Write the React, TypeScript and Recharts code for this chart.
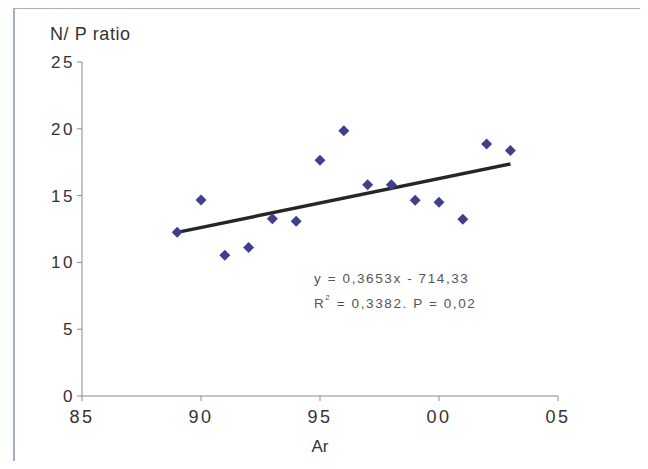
import { ScatterChart, Scatter, XAxis, YAxis, Label } from "recharts";

// N/P ratio per year
const years = [1989, 1990, 1991, 1992, 1993, 1994, 1995, 1996, 1997, 1998, 1999, 2000, 2001, 2002, 2003];
const npRatio = [12.26, 14.67, 10.53, 11.12, 13.26, 13.08, 17.65, 19.86, 15.81, 15.81, 14.65, 14.5, 13.23, 18.87, 18.37];

// regression line end points (y = 0,3653x - 714,33)
const trendYears = [1989, 2003];
const trendValues = [12.25, 17.37];

const xTicks = [1985, 1990, 1995, 2000, 2005];
const yTicks = [0, 5, 10, 15, 20, 25];

const points = years.map((x, i) => ({ x, y: npRatio[i] }));
const trend = trendYears.map((x, i) => ({ x, y: trendValues[i] }));

const font = "'Liberation Sans', Arial, sans-serif";

const Diamond = (props: any) => {
  const { cx, cy } = props;
  const r = 5.5;
  return (
    <polygon
      points={`${cx},${cy - r} ${cx + r},${cy} ${cx},${cy + r} ${cx - r},${cy}`}
      fill="#3f3f8f"
    />
  );
};

export default function App() {
  return (
    <div style={{ position: "relative", width: 648, height: 469, margin: -8, overflow: "hidden", background: "#fff", fontFamily: font }}>
      <div
        style={{
          position: "absolute",
          left: 13,
          top: 7,
          width: 626,
          height: 480,
          border: "2px solid #a3afc6",
        }}
      />
      <div style={{ position: "absolute", left: 50, top: 24, fontSize: 18, color: "#333", letterSpacing: 0.6 }}>
        N/ P ratio
      </div>
      <div style={{ position: "absolute", left: 314, top: 266, fontSize: 13.5, color: "#555", letterSpacing: 1.6, lineHeight: "25px" }}>
        <div>y = 0,3653x - 714,33</div>
        <div>
          R<sup style={{ fontSize: 8, verticalAlign: "top", lineHeight: "14px" }}>2</sup> = 0,3382. P = 0,02
        </div>
      </div>
      <ScatterChart width={648} height={469} margin={{ top: 62, right: 90, left: 22, bottom: 13 }} style={{ position: "absolute", left: 0, top: 0 }}>
        <XAxis
          type="number"
          dataKey="x"
          domain={[1985, 2005]}
          ticks={xTicks}
          tickFormatter={(v: number) => String(v).slice(2)}
          height={60}
          stroke="#8a8a8a"
          tickSize={5}
          tickMargin={9}
          tick={{ fontSize: 18, fill: "#333", fontFamily: font, letterSpacing: 2.5 }}
          allowDataOverflow
        >
          <Label value="Ar" position="insideBottom" offset={4} style={{ fontSize: 17, fill: "#333", fontFamily: font }} />
        </XAxis>
        <YAxis
          type="number"
          dataKey="y"
          domain={[0, 25]}
          ticks={yTicks}
          width={60}
          stroke="#8a8a8a"
          tickSize={5}
          tickMargin={2}
          tick={{ fontSize: 17, fill: "#333", fontFamily: font, letterSpacing: 2.5 }}
        />
        <Scatter data={trend} line={{ stroke: "#262626", strokeWidth: 3.5 }} shape={() => null} isAnimationActive={false} />
        <Scatter data={points} shape={Diamond} isAnimationActive={false} />
      </ScatterChart>
    </div>
  );
}
